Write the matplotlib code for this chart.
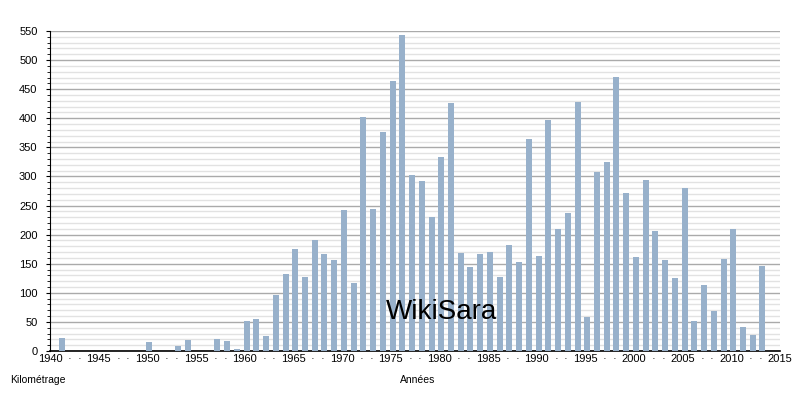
import matplotlib
matplotlib.use("Agg")
import matplotlib.pyplot as plt
from matplotlib.ticker import MultipleLocator, FixedLocator

plt.rcParams['font.family'] = ['Liberation Sans', 'DejaVu Sans']

years = [1941, 1950, 1953, 1954, 1957, 1958, 1959, 1960, 1961, 1962, 1963, 1964,
         1965, 1966, 1967, 1968, 1969, 1970, 1971, 1972, 1973, 1974, 1975, 1976,
         1977, 1978, 1979, 1980, 1981, 1982, 1983, 1984, 1985, 1986, 1987, 1988,
         1989, 1990, 1991, 1992, 1993, 1994, 1995, 1996, 1997, 1998, 1999, 2000,
         2001, 2002, 2003, 2004, 2005, 2006, 2007, 2008, 2009, 2010, 2011, 2012, 2013]
km = [22, 15, 8, 19, 20, 17, 3, 51, 55, 26, 96, 132,
      175, 127, 190, 166, 156, 242, 117, 402, 244, 376, 464, 543,
      302, 292, 230, 333, 426, 168, 144, 166, 170, 127, 182, 153,
      364, 163, 397, 210, 237, 428, 58, 308, 325, 471, 272, 162,
      294, 206, 156, 125, 280, 51, 113, 69, 158, 210, 41, 27, 146]

x_label_years = list(range(1940, 2016, 5))
dot_years = [y for y in range(1940, 2016) if y % 5 in (2, 3)]

fig = plt.figure(figsize=(8, 4), dpi=100)
ax = fig.add_axes([50/800, 49/400, 730/800, 320/400])

ax.bar([y + 0.2 for y in years], km, width=0.62, color='#98b1cb', zorder=3)

ax.set_xlim(1940, 2015)
ax.set_ylim(0, 550)

ax.yaxis.set_major_locator(MultipleLocator(50))
ax.yaxis.set_minor_locator(MultipleLocator(10))
ax.grid(which='major', axis='y', color='#aaaaaa', linewidth=1, zorder=0)
ax.grid(which='minor', axis='y', color='#e2e2e2', linewidth=1, zorder=0)
ax.set_axisbelow(True)

ticks = sorted(x_label_years + dot_years)
labels = [str(t) if t in x_label_years else '·' for t in ticks]
ax.xaxis.set_major_locator(FixedLocator(ticks))
ax.set_xticklabels(labels)
ax.tick_params(axis='x', length=0, pad=2, labelsize=8, colors='#000000')
ax.tick_params(axis='y', which='major', length=3, labelsize=8, pad=6)
ax.tick_params(axis='y', which='minor', length=2)

for s in ('top', 'right'):
    ax.spines[s].set_visible(False)
ax.spines['left'].set_color('black')
ax.spines['bottom'].set_color('black')
ax.spines['bottom'].set_linewidth(1.2)

fig.text(10/800, 1 - 380/400, 'Kilométrage', fontsize=7.5, ha='left', va='center')
fig.text(400/800, 1 - 380/400, 'Années', fontsize=7.5, ha='left', va='center')
fig.text(442/800, 1 - 312/400, 'WikiSara', fontsize=20, ha='center', va='center')

fig.savefig('out.png', dpi=100)
